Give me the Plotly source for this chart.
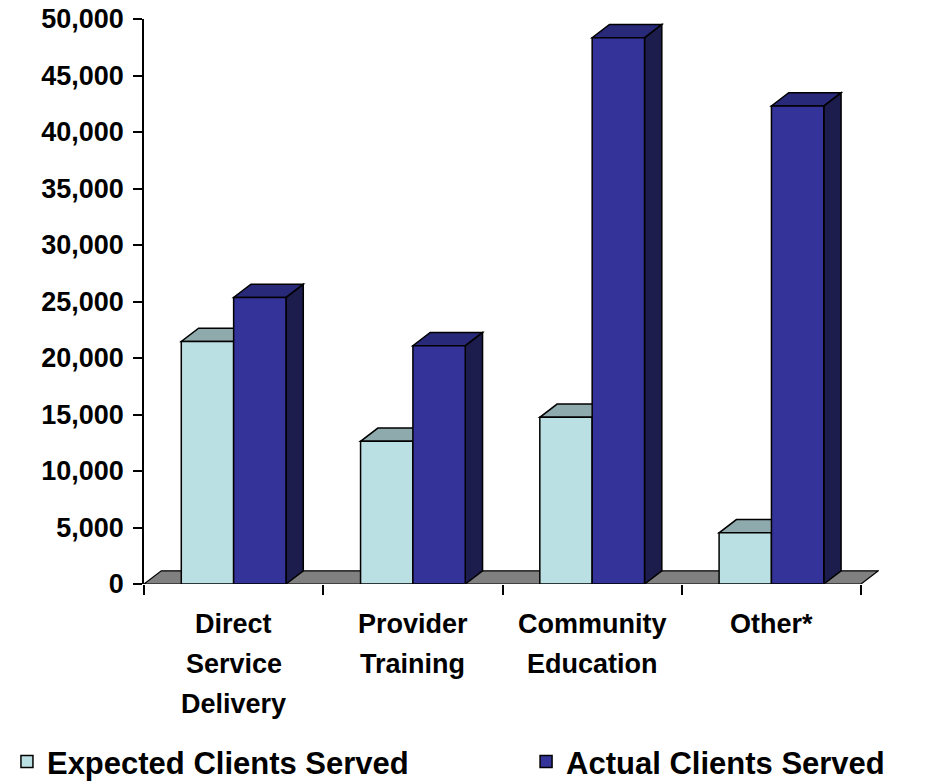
import plotly.graph_objects as go

categories = ["Direct<br>Service<br>Delivery", "Provider<br>Training", "Community<br>Education", "Other*"]
expected = [21470, 12630, 14750, 4530]
actual = [25360, 21090, 48350, 42310]
series_names = ["Expected Clients Served", "Actual Clients Served"]

# styles
FRONT_EXP = "#BBE0E3"
TOP_EXP = "#8FAAAD"
FRONT_ACT = "#333399"
TOP_ACT = "#29297A"
SIDE_ACT = "#1C1C4D"
FLOOR = "#808080"
BARGAP = 0.416
DX = 0.0965          # depth offset in category units
DY = 1170            # depth offset in value units
FONT = dict(family="Liberation Sans, Arial, sans-serif", color="black", weight="bold")

fig = go.Figure()
fig.add_trace(go.Bar(x=categories, y=expected, name=series_names[0], legend="legend",
                     marker=dict(color=FRONT_EXP, line=dict(color="black", width=1.5))))
fig.add_trace(go.Bar(x=categories, y=actual, name=series_names[1], legend="legend2",
                     marker=dict(color=FRONT_ACT, line=dict(color="black", width=1.5))))

w = (1 - BARGAP) / 2
n = len(categories)
shapes = []
# floor
shapes.append(dict(type="path", xref="x", yref="y", layer="below",
                   path=f"M {-0.5},0 L {n-0.5},0 L {n-0.5+DX},{DY} L {-0.5+DX},{DY} Z",
                   fillcolor=FLOOR, line=dict(color="black", width=1.2)))
for i in range(n):
    e, a = expected[i], actual[i]
    # expected top
    x0, x1 = i - w, i
    shapes.append(dict(type="path", xref="x", yref="y", layer="below",
                       path=f"M {x0},{e} L {x1},{e} L {x1+DX},{e+DY} L {x0+DX},{e+DY} Z",
                       fillcolor=TOP_EXP, line=dict(color="black", width=1.5)))
    # actual side and top
    x0, x1 = i, i + w
    shapes.append(dict(type="path", xref="x", yref="y", layer="below",
                       path=f"M {x1},0 L {x1},{a} L {x1+DX},{a+DY} L {x1+DX},{DY} Z",
                       fillcolor=SIDE_ACT, line=dict(color="black", width=1.5)))
    shapes.append(dict(type="path", xref="x", yref="y", layer="below",
                       path=f"M {x0},{a} L {x1},{a} L {x1+DX},{a+DY} L {x0+DX},{a+DY} Z",
                       fillcolor=TOP_ACT, line=dict(color="black", width=1.5)))

# category labels, one annotation per line (for the wider line spacing)
PLOT_TOP, PLOT_H = 19, 565
annotations = []
for i, cat in enumerate(categories):
    for k, line in enumerate(cat.split("<br>")):
        ypix = 624 + 40 * k
        annotations.append(dict(x=i, xref="x", y=1 - (ypix - PLOT_TOP) / PLOT_H, yref="paper",
                                text=line, showarrow=False, xanchor="center", yanchor="middle",
                                font=dict(size=27, **FONT)))

leg_common = dict(orientation="h", xref="container", yref="container", xanchor="left",
                  y=0.027, yanchor="middle", font=dict(size=31, **FONT), bgcolor="rgba(0,0,0,0)")

fig.update_layout(
    width=927, height=783,
    margin=dict(l=144, r=48, t=19, b=199, autoexpand=False),
    paper_bgcolor="white", plot_bgcolor="white",
    barmode="group", bargap=BARGAP, bargroupgap=0,
    shapes=shapes,
    annotations=annotations,
    showlegend=True,
    legend=dict(x=0.0075, **leg_common),
    legend2=dict(x=0.5675, **leg_common),
    xaxis=dict(type="category", range=[-0.5, n - 0.5 + 0.1], tickson="boundaries",
               ticks="outside", ticklen=10, tickwidth=1.5, tickcolor="black",
               showticklabels=False,
               showline=False, showgrid=False, zeroline=False, automargin=False),
    yaxis=dict(range=[0, 50000], dtick=5000, tickformat=",", ticks="outside",
               ticklen=9, tickwidth=1.5, tickcolor="black",
               showline=True, linecolor="black", linewidth=1.5, automargin=False,
               showgrid=False, zeroline=False,
               tickfont=dict(size=27, **FONT), ticklabelstandoff=4),
)

fig.write_html("out.html")
